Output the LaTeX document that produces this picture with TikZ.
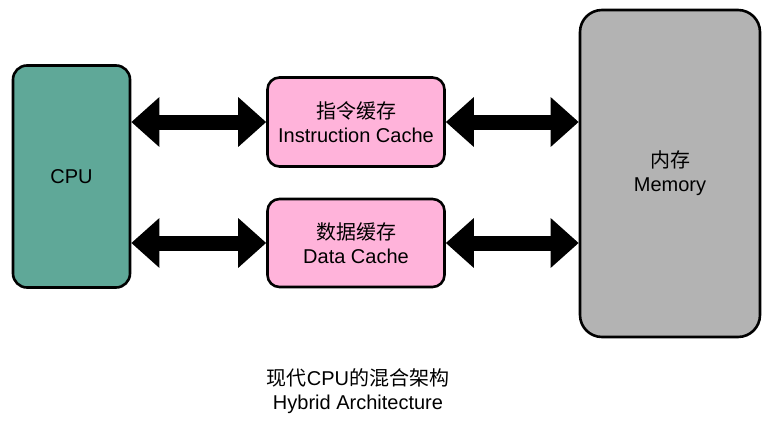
\documentclass[tikz,border=0pt]{standalone}
\usepackage{fontspec}
\setmainfont{Liberation Sans}
\newfontfamily\cjk{Noto Sans CJK SC}
\usetikzlibrary{arrows.meta}
\definecolor{cputeal}{RGB}{95,168,152}
\definecolor{cachepink}{RGB}{255,179,218}
\definecolor{memgray}{RGB}{179,179,179}
\tikzset{
  box/.style={draw=black, line width=2.6pt, rectangle, inner sep=0pt, align=center,
    font=\fontsize{20}{24}\selectfont},
  bigarrow/.style={line width=15pt, -{Triangle[length=28pt,width=48pt]}, shorten >=0pt},
  dblarrow/.style={line width=15pt, {Triangle[length=28pt,width=48pt]}-{Triangle[length=28pt,width=48pt]}},
  caption/.style={align=center, font=\fontsize{20}{24}\selectfont}
}
\begin{document}
\begin{tikzpicture}[x=1pt,y=-1pt]
\useasboundingbox (0,0) rectangle (778,428);
\fill[white] (0,0) rectangle (778,428);
\node[box, fill=cputeal, rounded corners=14pt, minimum width=117pt, minimum height=222pt] (cpu) at (71.5,176.5) {CPU};
\node[box, fill=cachepink, rounded corners=12pt, minimum width=177pt, minimum height=89pt] (ic) at (356,122) {{\cjk 指令缓存}\\Instruction Cache};
\node[box, fill=cachepink, rounded corners=12pt, minimum width=177pt, minimum height=88pt] (dc) at (356,243) {{\cjk 数据缓存}\\Data Cache};
\node[box, fill=memgray, rounded corners=22pt, minimum width=180pt, minimum height=327pt] (mem) at (670,173.5) {{\cjk 内存}\\Memory};
\draw[dblarrow] (ic.west -| cpu.east) -- (ic.west);
\draw[dblarrow] (dc.west -| cpu.east) -- (dc.west);
\draw[dblarrow] (ic.east) -- (ic.east -| mem.west);
\draw[dblarrow] (dc.east) -- (dc.east -| mem.west);
\node[caption] (cap) at (358,391) {{\cjk 现代}CPU{\cjk 的混合架构}\\Hybrid Architecture};
\end{tikzpicture}
\end{document}
